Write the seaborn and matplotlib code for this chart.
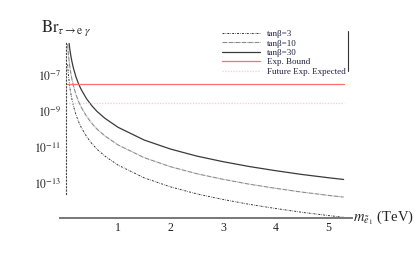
import numpy as np
import pandas as pd
import matplotlib
matplotlib.use("Agg")
import matplotlib.pyplot as plt
import seaborn as sns
from matplotlib.ticker import FixedLocator, MultipleLocator, NullLocator, FixedFormatter
from matplotlib.lines import Line2D

# ---- data ----
m_tev = [0.04, 0.05, 0.06, 0.08, 0.09, 0.10, 0.12, 0.15, 0.20, 0.25, 0.30, 0.40, 0.50,
         0.60, 0.75, 1.0, 1.5, 2.0, 2.5, 3.0, 3.5, 4.0, 4.5, 5.0, 5.3]
log_br_tb30 = [-4.31, -4.70, -5.01, -5.52, -5.72, -5.90, -6.22, -6.61, -7.11, -7.50,
               -7.81, -8.31, -8.70, -9.02, -9.40, -9.90, -10.61, -11.11, -11.50, -11.81,
               -12.08, -12.31, -12.52, -12.70, -12.80]
log_br_tb10 = [-5.29, -5.68, -5.99, -6.50, -6.70, -6.88, -7.20, -7.59, -8.09, -8.48,
               -8.79, -9.29, -9.68, -10.00, -10.38, -10.88, -11.59, -12.09, -12.48, -12.79,
               -13.06, -13.29, -13.50, -13.68, -13.78]
log_br_tb3 = [-6.41, -6.80, -7.11, -7.62, -7.82, -8.00, -8.32, -8.71, -9.21, -9.60,
              -9.91, -10.41, -10.80, -11.12, -11.50, -12.00, -12.71, -13.21, -13.60, -13.91,
              -14.18, -14.41, -14.62, -14.80, -14.90]
exp_bound = 3.3e-8
future_expected = 2.8e-9
bound_range = [0.0, 5.3]
series_labels = ["tanβ=3", "tanβ=10", "tanβ=30", "Exp. Bound", "Future Exp. Expected"]
ytick_vals = [1e-7, 1e-9, 1e-11, 1e-13]
ytick_labels = ["$10^{-7}$", "$10^{-9}$", "$10^{-11}$", "$10^{-13}$"]
xtick_vals = [1, 2, 3, 4, 5]

n = len(m_tev)
df = pd.DataFrame({
    "m": m_tev * 3,
    "br": [10 ** v for v in log_br_tb3 + log_br_tb10 + log_br_tb30],
    "series": [series_labels[0]] * n + [series_labels[1]] * n + [series_labels[2]] * n,
})
df_bound = pd.DataFrame({"m": bound_range, "br": [exp_bound] * 2})
df_future = pd.DataFrame({"m": bound_range, "br": [future_expected] * 2})

sns.set_style("white")
plt.rcParams["font.family"] = ["Liberation Serif", "DejaVu Serif"]
plt.rcParams["mathtext.fontset"] = "stix"

fig = plt.figure(figsize=(4.15, 2.72), dpi=100)
ax = fig.add_axes([60 / 415, 1 - 218 / 272, 292 / 415, 175 / 272])

styles = {
    series_labels[0]: dict(color="#333333", linestyle=(0, (2.0, 1.2, 0.6, 1.2)), linewidth=0.7),
    series_labels[1]: dict(color="#8a8a8a", linestyle=(0, (4, 0.6, 0.6, 0.6)), linewidth=0.8),
    series_labels[2]: dict(color="#3a3a3a", linestyle="-", linewidth=0.9),
}
for s in series_labels[:3]:
    sub = df[df["series"] == s]
    sns.lineplot(data=sub, x="m", y="br", ax=ax, label=s, **styles[s])
sns.lineplot(data=df_bound, x="m", y="br", ax=ax, color="#ff6f6f", linewidth=0.9,
             label=series_labels[3])
sns.lineplot(data=df_future, x="m", y="br", ax=ax, color="#ffc8d4", linewidth=0.9,
             linestyle=(0, (1, 1.2)), label=series_labels[4])

ax.set_yscale("log")
ax.set_ylim(10 ** -14.94, 10 ** -5.22)
ax.set_xlim(-0.105, 5.46)
ax.set_xlabel("")
ax.set_ylabel("")

# axes at origin (Mathematica style)
for sp in ["top", "right"]:
    ax.spines[sp].set_visible(False)
ax.spines["left"].set_position(("data", 0.0))
ax.spines["left"].set_linestyle((0, (1, 2)))
ax.spines["left"].set_color("#444444")
ax.spines["left"].set_linewidth(0.8)
ax.spines["left"].set_bounds(10 ** -13.6, 10 ** -5.22)
ax.spines["bottom"].set_color("#777777")
ax.spines["bottom"].set_linewidth(1.4)

ax.yaxis.set_major_locator(FixedLocator(ytick_vals))
ax.yaxis.set_major_formatter(FixedFormatter(ytick_labels))
ax.yaxis.set_minor_locator(NullLocator())
ax.tick_params(axis="y", which="major", direction="out", length=2, width=0.6,
               color="#444444", labelsize=8.5, pad=1)

ax.xaxis.set_major_locator(FixedLocator(xtick_vals))
ax.xaxis.set_minor_locator(MultipleLocator(0.2))
ax.tick_params(axis="x", which="major", direction="in", length=3, width=0.7,
               color="#555555", labelsize=8.5, pad=3, labelcolor="#222222")
ax.tick_params(axis="x", which="minor", direction="in", length=1.8, width=0.6,
               color="#555555")
ax.set_facecolor("white")

ax.text(-0.065, 1.03, r"$\mathrm{Br}_{\tau\rightarrow \mathrm{e}\ \gamma}$",
        transform=ax.transAxes, fontsize=12, ha="left", va="bottom")
ax.text(1.005, 0.0, r"$m_{\tilde{e}_1}$ (TeV)", transform=ax.transAxes,
        fontsize=10.5, ha="left", va="center")

leg = ax.legend(loc="upper left", bbox_to_anchor=(160 / 292, 1.085), frameon=False,
                fontsize=6.5, handlelength=4.2, handletextpad=0.8, labelspacing=0.12,
                borderpad=0.2, borderaxespad=0.0)
for t in leg.get_texts():
    t.set_color("#222244")
fig.add_artist(Line2D([348 / 415, 348 / 415], [1 - 31 / 272, 1 - 71 / 272],
                      transform=fig.transFigure, color="#333333", linewidth=0.8))

fig.savefig("out.png", dpi=100, facecolor="white")
